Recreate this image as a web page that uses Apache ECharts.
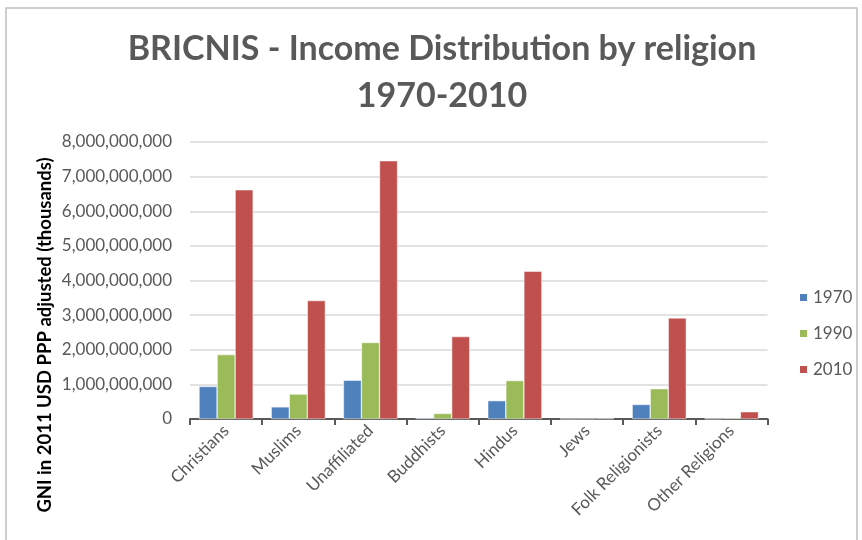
<!DOCTYPE html>
<html>
<head>
<meta charset="utf-8">
<script src="https://cdn.jsdelivr.net/npm/echarts@6/dist/echarts.min.js"></script>
<style>html,body{margin:0;padding:0;background:#fff}#c{width:862px;height:540px}</style>
</head>
<body>
<div id="c"></div>
<script>
const categories = ['Christians','Muslims','Unaffiliated','Buddhists','Hindus','Jews','Folk Religionists','Other Religions'];
const seriesNames = ['1970','1990','2010'];
const v1970 = [940000000, 350000000, 1120000000, 30000000, 530000000, 5000000, 420000000, 10000000];
const v1990 = [1860000000, 720000000, 2210000000, 160000000, 1110000000, 8000000, 875000000, 25000000];
const v2010 = [6620000000, 3420000000, 7460000000, 2380000000, 4270000000, 15000000, 2920000000, 210000000];
const yTicks = [0, 1000000000, 2000000000, 3000000000, 4000000000, 5000000000, 6000000000, 7000000000, 8000000000];
const colors = ['#4f81bd', '#9bbb59', '#c0504d'];
const values = [v1970, v1990, v2010];

const chart = echarts.init(document.getElementById('c'), null, {renderer: 'canvas'});
const fontFam = 'Lato, "Open Sans", sans-serif';
chart.setOption({
  animation: false,
  title: {
    text: 'BRICNIS - Income Distribution by religion\n1970-2010',
    left: 437, top: 21, textAlign: 'center',
    textStyle: {fontFamily: fontFam, fontWeight: 'bold', fontSize: 34, color: '#595959', lineHeight: 47}
  },
  legend: {
    orient: 'vertical', left: 798, top: 289, padding: 0, itemWidth: 9, itemHeight: 9, itemGap: 19,
    icon: 'rect',
    textStyle: {fontFamily: fontFam, fontSize: 17, color: '#595959'},
    data: seriesNames
  },
  graphic: [
    {type: 'rect', shape: {x: 6, y: 8, width: 851, height: 540}, style: {fill: 'none', stroke: '#bfbfbf', lineWidth: 1.5}, silent: true},
    {type: 'text', x: 45, y: 335, rotation: Math.PI / 2,
     style: {text: 'GNI in 2011 USD PPP adjusted (thousands)', font: 'bold 18.5px ' + fontFam, fill: '#000', align: 'center', verticalAlign: 'middle'}}
  ],
  grid: {left: 190, right: 94.5, top: 142, bottom: 121, containLabel: false},
  xAxis: {
    type: 'category', data: categories,
    axisLine: {lineStyle: {color: '#595959', width: 2}},
    axisTick: {show: true, alignWithLabel: false, length: 6, lineStyle: {color: '#595959', width: 2}},
    axisLabel: {rotate: 45, margin: 9, fontFamily: fontFam, fontSize: 17, color: '#595959', interval: 0}
  },
  yAxis: {
    type: 'value', min: yTicks[0], max: yTicks[yTicks.length - 1], interval: yTicks[1] - yTicks[0],
    axisLine: {show: false}, axisTick: {show: false},
    splitLine: {lineStyle: {color: '#d9d9d9', width: 1.5}},
    axisLabel: {margin: 18, fontFamily: fontFam, fontSize: 17, color: '#595959',
      formatter: v => v.toLocaleString('en-US')}
  },
  series: seriesNames.map((n, i) => ({
    name: n, type: 'bar', data: values[i], barGap: '0%', barCategoryGap: '25%',
    itemStyle: {color: colors[i], borderColor: '#fff', borderWidth: 0.5}
  }))
});
</script>
</body>
</html>
